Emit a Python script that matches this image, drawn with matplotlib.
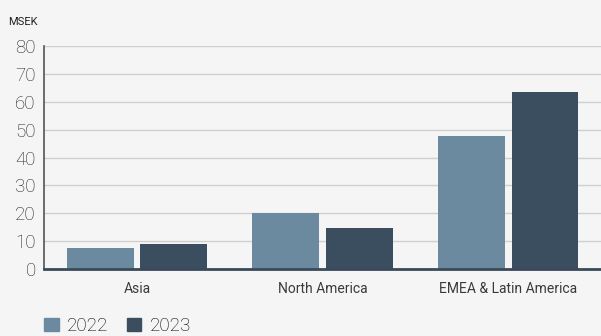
import numpy as np
import matplotlib.pyplot as plt
from matplotlib.patches import Patch

regions = ['Asia', 'North America', 'EMEA & Latin America']
years = ['2022', '2023']
vals_2022 = [7.5, 20.0, 47.7]
vals_2023 = [9.0, 14.7, 63.4]
yticks = [0, 10, 20, 30, 40, 50, 60, 70, 80]

bg = '#f5f5f5'
c22 = '#6b8aa0'
c23 = '#3a4e60'
plt.rcParams['font.family'] = ['Roboto', 'DejaVu Sans']

fig = plt.figure(figsize=(6.01, 3.36), dpi=100, facecolor=bg)
ax = fig.add_axes([0.0732, 0.199, 0.927, 0.664], facecolor=bg)

x = np.arange(len(regions))
w = 0.36
ax.bar(x - 0.198, vals_2022, w, color=c22, zorder=3)
ax.bar(x + 0.198, vals_2023, w, color=c23, zorder=3)

ax.set_xlim(-0.5, 2.5)
ax.set_ylim(0, 80)
ax.set_yticks(yticks)
ax.set_xticks(x)
ax.set_xticklabels(regions, fontsize=10, color='#3a3a3a')
ax.tick_params(axis='y', length=0, pad=6, labelsize=13.5, labelcolor='#222222')
ax.tick_params(axis='x', length=0, pad=9)
for t in ax.get_yticklabels():
    t.set_fontweight('light')
ax.yaxis.grid(True, color='#cfcfcf', linewidth=1, zorder=0)
ax.set_axisbelow(True)

for s in ['top', 'right']:
    ax.spines[s].set_visible(False)
ax.spines['left'].set_color('#555555')
ax.spines['left'].set_linewidth(1.2)
ax.spines['bottom'].set_color('#3a4a5a')
ax.spines['bottom'].set_linewidth(2)
ax.spines['bottom'].set_zorder(4)

fig.text(0.013, 0.935, 'MSEK', fontsize=8, color='#222222', ha='left', va='center')

handles = [Patch(color=c22), Patch(color=c23)]
fig.legend(handles, years, loc='center left', bbox_to_anchor=(0.074, 0.03), ncol=2,
           frameon=False, handlelength=0.75, handleheight=0.75,
           handletextpad=0.45, columnspacing=1.0, borderpad=0, borderaxespad=0,
           prop={'weight': 'light', 'size': 13.5})

fig.savefig('out.png', dpi=100, facecolor=bg)
